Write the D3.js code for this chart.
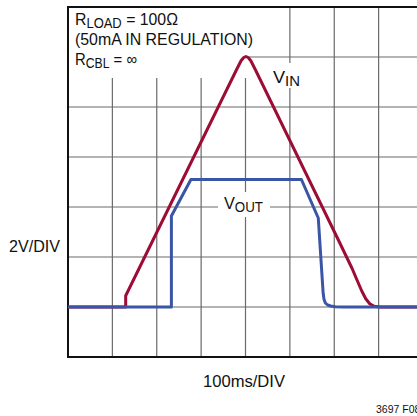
<!DOCTYPE html>
<html><head><meta charset="utf-8">
<script src="https://cdn.jsdelivr.net/npm/d3@7"></script>
<style>html,body{margin:0;padding:0;background:#fff;}svg{display:block;}</style>
</head><body><svg id="c" width="417" height="416"></svg>
<script>
// time in ms, voltage in V
const xTicks = [0,100,200,300,400,500,600,700,800];
const yTicks = [-2,0,2,4,6,8,10,12];
const vinTime = [0,130,130,380,390,396,401,406,412,422,606,640,652,662,671,680,690,703,800];
const vinVolt = [0,0,0.45,9.5,9.85,9.98,10.02,9.98,9.85,9.5,2.8,1.55,1.05,0.64,0.33,0.13,0.03,0,0];
const voutTime = [0,233,233,277,526,564,575,577,580,585,592,602,620,800];
const voutVolt = [0,0,3.64,5.1,5.1,3.56,0.55,0.3,0.16,0.08,0.04,0.01,0,0];
const labels = {load:"100Ω", reg:"(50mA IN REGULATION)", cbl:"∞"};

const svg = d3.select("#c");
const font = "'Liberation Sans Narrow','Arial Narrow',sans-serif";
const x = d3.scaleLinear().domain([0,800]).range([68,423]);
const y = d3.scaleLinear().domain([-2,12]).range([357,7]);

// grid
const g = svg.append("g");
g.selectAll(".vx").data(xTicks.slice(1,-1)).join("line")
  .attr("x1",d=>x(d)).attr("x2",d=>x(d)).attr("y1",y(12)).attr("y2",y(-2))
  .attr("stroke","#6a6a6a").attr("stroke-width",1.2);
g.selectAll(".hy").data(yTicks.slice(1,-1)).join("line")
  .attr("x1",x(0)).attr("x2",x(800)).attr("y1",d=>y(d)).attr("y2",d=>y(d))
  .attr("stroke","#6a6a6a").attr("stroke-width",1.2);

// label boxes (white background)
svg.append("rect").attr("x",x(0)+1).attr("y",y(12)+1).attr("width",180).attr("height",70).attr("fill","#fff");
svg.append("rect").attr("x",270).attr("y",63).attr("width",36).attr("height",25).attr("fill","#fff");
svg.append("rect").attr("x",218).attr("y",192).attr("width",52).attr("height",25).attr("fill","#fff");

// border
svg.append("path").attr("d",`M${x(800)},${y(12)}H${x(0)}V${y(-2)}H${x(800)}`)
  .attr("fill","none").attr("stroke","#111").attr("stroke-width",2);

const line = d3.line().x(d=>x(d[0])).y(d=>y(d[1]));
svg.append("path").datum(d3.zip(vinTime,vinVolt)).attr("d",line)
  .attr("fill","none").attr("stroke","#9c0c35").attr("stroke-width",3).attr("stroke-linejoin","round");
svg.append("path").datum(d3.zip(voutTime,voutVolt)).attr("d",line)
  .attr("fill","none").attr("stroke","#3a55a6").attr("stroke-width",3).attr("stroke-linejoin","round");

function txt(px, py, size, len){
  const te = svg.append("text").attr("x",px).attr("y",py).attr("font-family",font)
    .attr("font-size",size).attr("fill","#111");
  if(len) te.attr("textLength",len).attr("lengthAdjust","spacingAndGlyphs");
  return te;
}
function sub(px, py, main, s, rest, size, len){
  const te = txt(px,py,size,len);
  te.append("tspan").text(main);
  te.append("tspan").attr("dy",3).attr("font-size",size*0.82).text(s);
  if(rest) te.append("tspan").attr("dy",-3).text(rest);
  return te;
}
sub(75,25,"R","LOAD"," = "+labels.load,17,103);
txt(75,45,17,178).text(labels.reg);
sub(75,65,"R","CBL"," = "+labels.cbl,17,62);
sub(273,83,"V","IN",null,17,27);
sub(224,209,"V","OUT",null,17,39);

txt(9,252,17,51).text("2V/DIV");
txt(203,387,17,82).text("100ms/DIV");
txt(376,413,10.5).text("3697 F08");
</script></body></html>
